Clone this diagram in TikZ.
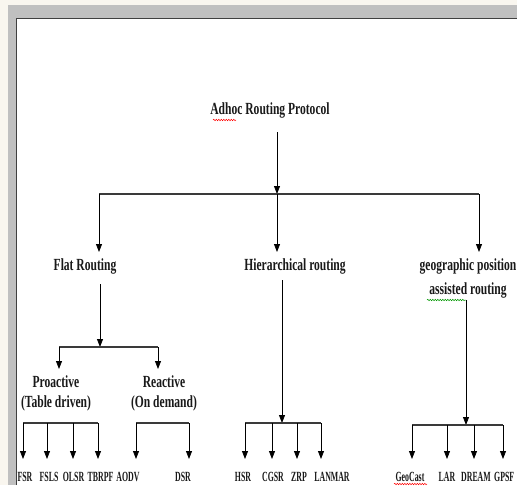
\documentclass[tikz,border=0pt]{standalone}
\usepackage{fontspec}
\setmainfont{Liberation Serif}[FakeStretch=0.68]
\newfontfamily\leaffont{Liberation Serif}[FakeStretch=0.56]
\usetikzlibrary{arrows.meta,decorations.pathmorphing}
\definecolor{framegray}{HTML}{C0C0C0}
\definecolor{barcol}{HTML}{3A3A3A}
\definecolor{paper}{HTML}{F9F6EF}
\tikzset{
  lbl/.style={inner sep=1pt, font=\fontsize{17}{21}\selectfont\bfseries, text=black!90},
  leaf/.style={inner sep=1pt, font=\leaffont\fontsize{14}{15}\selectfont\bfseries, text=black!90},
  arr/.style={draw=black, line width=0.8pt, -{Triangle[length=8pt,width=6pt]}},
  bar/.style={draw=barcol, line width=1.5pt},
  squig/.style={decorate, decoration={snake, amplitude=0.7pt, segment length=2.5pt}, line width=0.5pt}
}
\begin{document}
\begin{tikzpicture}[x=1pt,y=-1pt]
\useasboundingbox (0,0) rectangle (517,485);
\clip (0,0) rectangle (517,485);
% frame
\fill[paper] (0,0) rectangle (517,485);
\fill[framegray] (8,5) rectangle (517,485);
\fill[white] (17,19) rectangle (517,485);
\draw[black!75, line width=1.3pt] (16.5,485) -- (16.5,18.5) -- (517,18.5);

% title and first level
\node[lbl] (title) at (270,110) {Adhoc Routing Protocol};
\draw[red, squig] (213,120) -- (236,120);
\coordinate (t0) at (277,132);
\coordinate (b1) at (277,194);
\coordinate (b1l) at (99,194);
\coordinate (b1r) at (479,194);
\draw[arr] (t0) -- (b1);
\draw[bar] (b1l) -- (b1r);

\node[lbl] (flat) at (85,266) {Flat Routing};
\node[lbl] (hier) at (295,266) {Hierarchical routing};
\node[lbl, align=center, font=\fontsize{17}{24}\selectfont\bfseries] (geo) at (468,278) {geographic position\\assisted routing};
\draw[green!60!black, squig] (427,300) -- (466,300);

\coordinate (fa) at (99,252);
\coordinate (ha) at (277,252);
\coordinate (ga) at (479,252);
\draw[arr] (b1l) -- (fa);
\draw[arr] (b1) -- (ha);
\draw[arr] (b1r) -- (ga);

% flat routing split
\coordinate (f0) at (100,284);
\coordinate (f1) at (100,347);
\coordinate (f1l) at (59,347);
\coordinate (f1r) at (158,347);
\draw[arr] (f0) -- (f1);
\draw[bar] (f1l) -- (f1r);
\draw[arr] (f1l) -- (59,369);
\draw[arr] (f1r) -- (158,369);

\node[lbl, align=center, font=\fontsize{17}{20}\selectfont\bfseries] (pro) at (56,393) {Proactive\\(Table driven)};
\node[lbl, align=center, font=\fontsize{17}{20}\selectfont\bfseries] (rea) at (164,393) {Reactive\\(On demand)};

% proactive
\draw[bar] (23,423) -- (98,423);
\foreach \x in {23,47,73,98} {
  \draw[arr] (\x,423) -- (\x,459);
}
\node[leaf] (fsr) at (25,477) {FSR};
\node[leaf] (fsls) at (49,477) {FSLS};
\node[leaf] (olsr) at (73.5,477) {OLSR};
\node[leaf] (tbrpf) at (100.5,477) {TBRPF};

% reactive
\draw[bar] (136,423) -- (189,423);
\draw[arr] (136,423) -- (136,459);
\draw[arr] (189,423) -- (189,459);
\node[leaf] (aodv) at (128,477) {AODV};
\node[leaf] (dsr) at (183,477) {DSR};

% hierarchical
\draw[arr] (282,280) -- (282,423);
\draw[bar] (245,423) -- (321,423);
\foreach \x in {245,272,297,321} {
  \draw[arr] (\x,423) -- (\x,459);
}
\node[leaf] (hsr) at (243,477) {HSR};
\node[leaf] (cgsr) at (273,477) {CGSR};
\node[leaf] (zrp) at (299,477) {ZRP};
\node[leaf] (lanmar) at (332,477) {LANMAR};

% geographic
\draw[arr] (466,300) -- (466,425);
\draw[bar] (412,425) -- (503,425);
\foreach \x in {412,447,474,503} {
  \draw[arr] (\x,425) -- (\x,459);
}
\node[leaf] (geocast) at (410,477) {GeoCast};
\draw[red, squig] (394,484) -- (427,484);
\node[leaf] (lar) at (447,477) {LAR};
\node[leaf] (dream) at (476,477) {DREAM};
\node[leaf, anchor=west] (gpsf) at (493,477) {GPSF};
\end{tikzpicture}
\end{document}
